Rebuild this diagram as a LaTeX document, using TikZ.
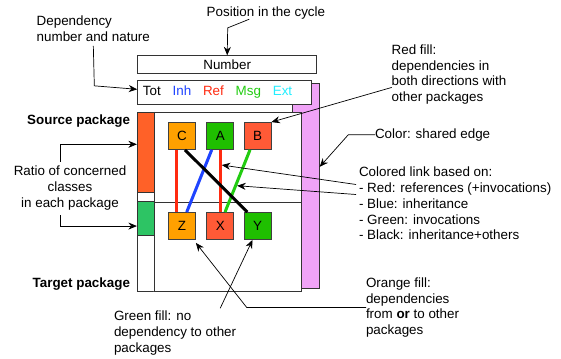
\documentclass[tikz,border=0pt]{standalone}
\usepackage{fontspec}
\setmainfont{Liberation Sans}
\usetikzlibrary{arrows.meta}
\definecolor{edgepink}{HTML}{F0A3F7}
\definecolor{srcred}{HTML}{FF6128}
\definecolor{tgtgreen}{HTML}{2DC464}
\definecolor{orangefill}{HTML}{FFA000}
\definecolor{redfill}{HTML}{FF5A36}
\definecolor{greenfill}{HTML}{1FBF00}
\definecolor{refred}{HTML}{FF2A10}
\definecolor{inhblue}{HTML}{1F44FF}
\definecolor{msggreen}{HTML}{22CC11}
\definecolor{extcyan}{HTML}{22EEFF}
\newcommand{\txt}{\fontsize{13.4}{15.8}\selectfont}
\newcommand{\cls}[5]{ \node[clsbox, fill=#4] (#1) at (#2,#3) {#5};}
\tikzset{
  clsbox/.style={draw=black!75, line width=0.8pt, minimum width=27pt, minimum height=27pt, inner sep=0pt, font=\txt},
  frame/.style={draw=black!80, line width=0.8pt, fill=white},
  note/.style={draw=black, line width=0.7pt, -{Stealth[length=8.5pt,width=7pt]}},
  lbl/.style={inner sep=0pt, outer sep=0pt, font=\txt, align=left, anchor=north west},
  link/.style={line width=3pt}
}

\begin{document}
\begin{tikzpicture}[x=1pt,y=-1pt]
        \useasboundingbox (0,0) rectangle (561,358);

        % shared edge and package frame
        \node[frame, fill=edgepink, minimum width=26.6pt, minimum height=205pt, inner sep=0pt] (edgebar) at (306,185.8) {};
        \node[frame, minimum width=164.4pt, minimum height=179.4pt, inner sep=0pt] (pkg) at (219.5,202) {};
        \draw[frame] ([xshift=17pt]pkg.north west) -- ([xshift=17pt]pkg.south west);
        \draw[frame] (pkg.west) -- (pkg.east);
        \node[frame, fill=srcred, minimum width=17pt, minimum height=80pt, inner sep=0pt] (srcbar) at (145.8,152.3) {};
        \node[frame, fill=tgtgreen, minimum width=17pt, minimum height=33.3pt, inner sep=0pt] (tgtbar) at (145.8,218.35) {};

        % header
        \node[frame, minimum width=179pt, minimum height=17.6pt, inner sep=0pt, font=\txt] (number) at (227.2,64.5) {Number};
        \node[frame, text width=162.7pt, inner xsep=5.3pt, minimum height=23.3pt, align=left, font=\txt] (kinds) at (224.3,92.3)
          {Tot\hspace{11.8pt}\textcolor{inhblue}{Inh}\hspace{11.8pt}\textcolor{refred}{Ref}\hspace{11.8pt}\textcolor{msggreen}{Msg}\hspace{11.8pt}\textcolor{extcyan}{Ext}};

        % row1
        \cls{C}{182}{136}{orangefill}{C}
        \cls{A}{220.3}{136}{greenfill}{A}
        \cls{B}{257.5}{136}{redfill}{B}
        % row2
        \cls{Z}{182}{226}{orangefill}{Z}
        \cls{X}{220.3}{226}{redfill}{X}
        \cls{Y}{257.5}{226}{greenfill}{Y}

        % links
        \draw[link, refred] ([xshift=-6pt]C.south) -- ([xshift=-6pt]Z.north);
        \draw[link, refred] (A.south) -- coordinate[pos=0.24] (refpt) (X.north);
        \draw[link, inhblue] ([xshift=-8.6pt]A.south) -- ([xshift=4.7pt]Z.north);
        \draw[link, msggreen] ([xshift=-7.5pt]B.south) -- coordinate[pos=0.574] (msgpt) ([xshift=4.7pt]X.north);
        \draw[link, black] ([xshift=3pt]C.south) -- ([xshift=-10.2pt]Y.north);

        % notes
        \node[lbl] (cycle) at (206.7,6.7) {Position in the cycle};
        \node[lbl] (dep) at (36.7,16.2) {Dependency\\number and nature};
        \node[lbl, anchor=north east] (src) at (130,115.2) {\textbf{Source package}};
        \node[lbl, anchor=north east] (tgt) at (130,277.5) {\textbf{Target package}};
        \node[lbl, align=center, anchor=north] (ratio) at (70,166.2) {Ratio of concerned\\classes\\in each package};
        \node[lbl] (redtxt) at (391.7,44.5) {Red fill:\\dependencies in\\both directions with\\other packages};
        \node[lbl] (shared) at (375,128.5) {Color: shared edge};
        \node[lbl] (links) at (359,166.9) {Colored link based on:\\- Red: references (+invocations)\\- Blue: inheritance\\- Green: invocations\\- Black: inheritance+others};
        \node[lbl] (orgtxt) at (366,277.5) {Orange fill:\\dependencies\\from \textbf{or} to other\\packages};
        \node[lbl] (grntxt) at (114,310.9) {Green fill: no\\dependency to other\\packages};

        \draw[note] ([xshift=-16.6pt]cycle.south) -- ++(-21.6,8.7) -- (number.north);
        \draw[note] ([yshift=-4pt]dep.south) -- ++(1,40) -- ([yshift=3pt]kinds.west);
        \draw[note] ([xshift=-10pt,yshift=4.5pt]ratio.north) |- ([yshift=8pt]srcbar.west);
        \draw[note] ([xshift=-10pt,yshift=-5pt]ratio.south) |- ([yshift=-7.7pt]tgtbar.west);
        \draw[note] ([yshift=-13pt]redtxt.west) -- (B.north east);
        \draw[note] (shared.west) -- ++(-26.7,0) -- ([yshift=19pt]edgebar.east);
        \draw[note, shorten >=1.5pt] ([xshift=-3pt,yshift=-17.6pt]links.north west) -- (refpt);
        \draw[note, shorten >=1.5pt] ([xshift=-3pt,yshift=-27.6pt]links.north west) -- (msgpt);
        \draw[note] (orgtxt.west) -- ++(-119.3,0) -- ([yshift=-3pt]Z.south east);
        \draw[note] ([xshift=-16pt,yshift=2.6pt]grntxt.north east) -- ([xshift=-5pt]Y.south);
\end{tikzpicture}
\end{document}
